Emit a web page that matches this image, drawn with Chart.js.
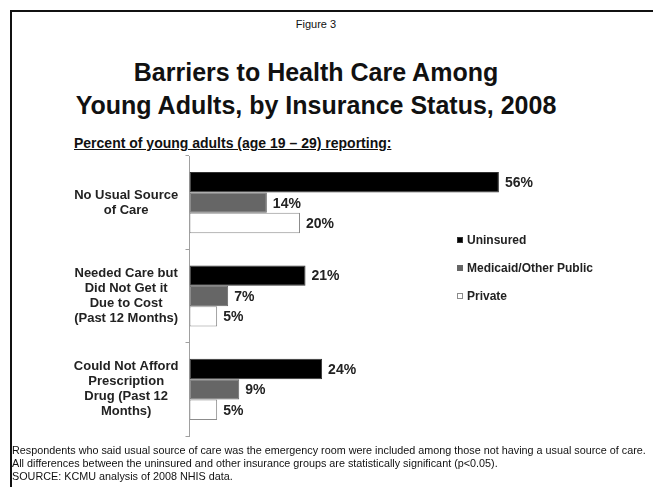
<!DOCTYPE html>
<html>
<head>
<meta charset="utf-8">
<script src="https://cdn.jsdelivr.net/npm/chart.js@4.4.1/dist/chart.umd.min.js"></script>
<style>
  html, body { margin: 0; padding: 0; background: #fff; }
  body { width: 653px; height: 487px; position: relative; overflow: hidden; font-family: "Liberation Sans", Arial, sans-serif; color: #111; }
  #frame { position: absolute; left: 10px; top: 10px; width: 700px; height: 600px; border: 2px solid #111; }
  .t { position: absolute; white-space: nowrap; }
  #fig { left: 0; width: 632px; top: 18px; text-align: center; font-size: 11px; }
  #title { left: 0; width: 632px; top: 56px; text-align: center; font-size: 25px; font-weight: bold; line-height: 33px; }
  #sub { left: 74px; top: 135px; font-size: 14px; font-weight: bold; text-decoration: underline; }
  #notes { left: 12px; top: 444px; font-size: 10.8px; line-height: 13px; }
  #wrap { position: absolute; left: 60px; top: 148px; width: 593px; height: 300px; }
  #legend { position: absolute; left: 457px; top: 232px; }
  .li { display: flex; align-items: center; height: 16px; margin-bottom: 12px; font-size: 12px; font-weight: bold; color: #222; }
  .sw { width: 6px; height: 6px; margin-right: 4px; box-sizing: border-box; }
</style>
</head>
<body>
<div id="frame"></div>
<div class="t" id="fig">Figure 3</div>
<div class="t" id="title">Barriers to Health Care Among<br>Young Adults, by Insurance Status, 2008</div>
<div class="t" id="sub">Percent of young adults (age 19 – 29) reporting:</div>
<div id="wrap"><canvas id="chart"></canvas></div>
<div id="legend"></div>
<div class="t" id="notes">Respondents who said usual source of care was the emergency room were included among those not having a usual source of care.<br>All differences between the uninsured and other insurance groups are statistically significant (p&lt;0.05).<br>SOURCE: KCMU analysis of 2008 NHIS data.</div>
<script>
// categories and values
const categories = [
  ['No Usual Source', 'of Care'],
  ['Needed Care but', 'Did Not Get it', 'Due to Cost', '(Past 12 Months)'],
  ['Could Not Afford', 'Prescription', 'Drug (Past 12', 'Months)']
];
const seriesNames = ['Uninsured', 'Medicaid/Other Public', 'Private'];
const uninsured = [56, 21, 24];
const medicaid = [14, 7, 9];
const privateIns = [20, 5, 5];

const fills = ['#000000', '#666666', '#ffffff'];
const borders = ['#333333', '#666666', '#8c8c8c'];

// value labels at the end of each bar
const barLabels = {
  id: 'barLabels',
  afterDatasetsDraw(chart) {
    const ctx = chart.ctx;
    ctx.save();
    ctx.font = 'bold 14px "Liberation Sans", Arial, sans-serif';
    ctx.fillStyle = '#222';
    ctx.textBaseline = 'middle';
    ctx.textAlign = 'left';
    chart.data.datasets.forEach((ds, i) => {
      chart.getDatasetMeta(i).data.forEach((bar, j) => {
        ctx.fillText(ds.data[j] + '%', bar.x + 6, bar.y + 1);
      });
    });
    ctx.restore();
  }
};

const allData = [uninsured, medicaid, privateIns];

new Chart(document.getElementById('chart'), {
  type: 'bar',
  data: {
    labels: categories,
    datasets: seriesNames.map((name, i) => ({
      label: name,
      data: allData[i],
      backgroundColor: fills[i],
      borderColor: borders[i],
      borderWidth: 1,
      borderSkipped: false,
      categoryPercentage: 0.656,
      barPercentage: 1
    }))
  },
  options: {
    indexAxis: 'y',
    responsive: true,
    maintainAspectRatio: false,
    animation: false,
    layout: { padding: { top: 8, bottom: 12, right: 132, left: 0 } },
    plugins: {
      legend: { display: false },
      tooltip: { enabled: false }
    },
    scales: {
      x: { display: false, min: 0, max: 60 },
      y: {
        afterFit(scale) {
          scale.width = 129.5;
          scale.paddingTop = 0;
          scale.paddingBottom = 0;
        },
        border: { display: true, color: '#a0a0a0', width: 1 },
        grid: { display: true, offset: true, drawOnChartArea: false, drawTicks: true, tickLength: 4, color: '#a0a0a0' },
        ticks: {
          crossAlign: 'center',
          padding: 7,
          color: '#222',
          font: { family: '"Liberation Sans", Arial, sans-serif', size: 13, weight: 'bold', lineHeight: 1.15 }
        }
      }
    }
  },
  plugins: [barLabels]
});

// legend built from the series names
const legend = document.getElementById('legend');
seriesNames.forEach((name, i) => {
  const row = document.createElement('div');
  row.className = 'li';
  row.innerHTML = '<span class="sw" style="background:' + fills[i] + ';border:1px solid ' + borders[i] + '"></span>' + name;
  legend.appendChild(row);
});
</script>
</body>
</html>
